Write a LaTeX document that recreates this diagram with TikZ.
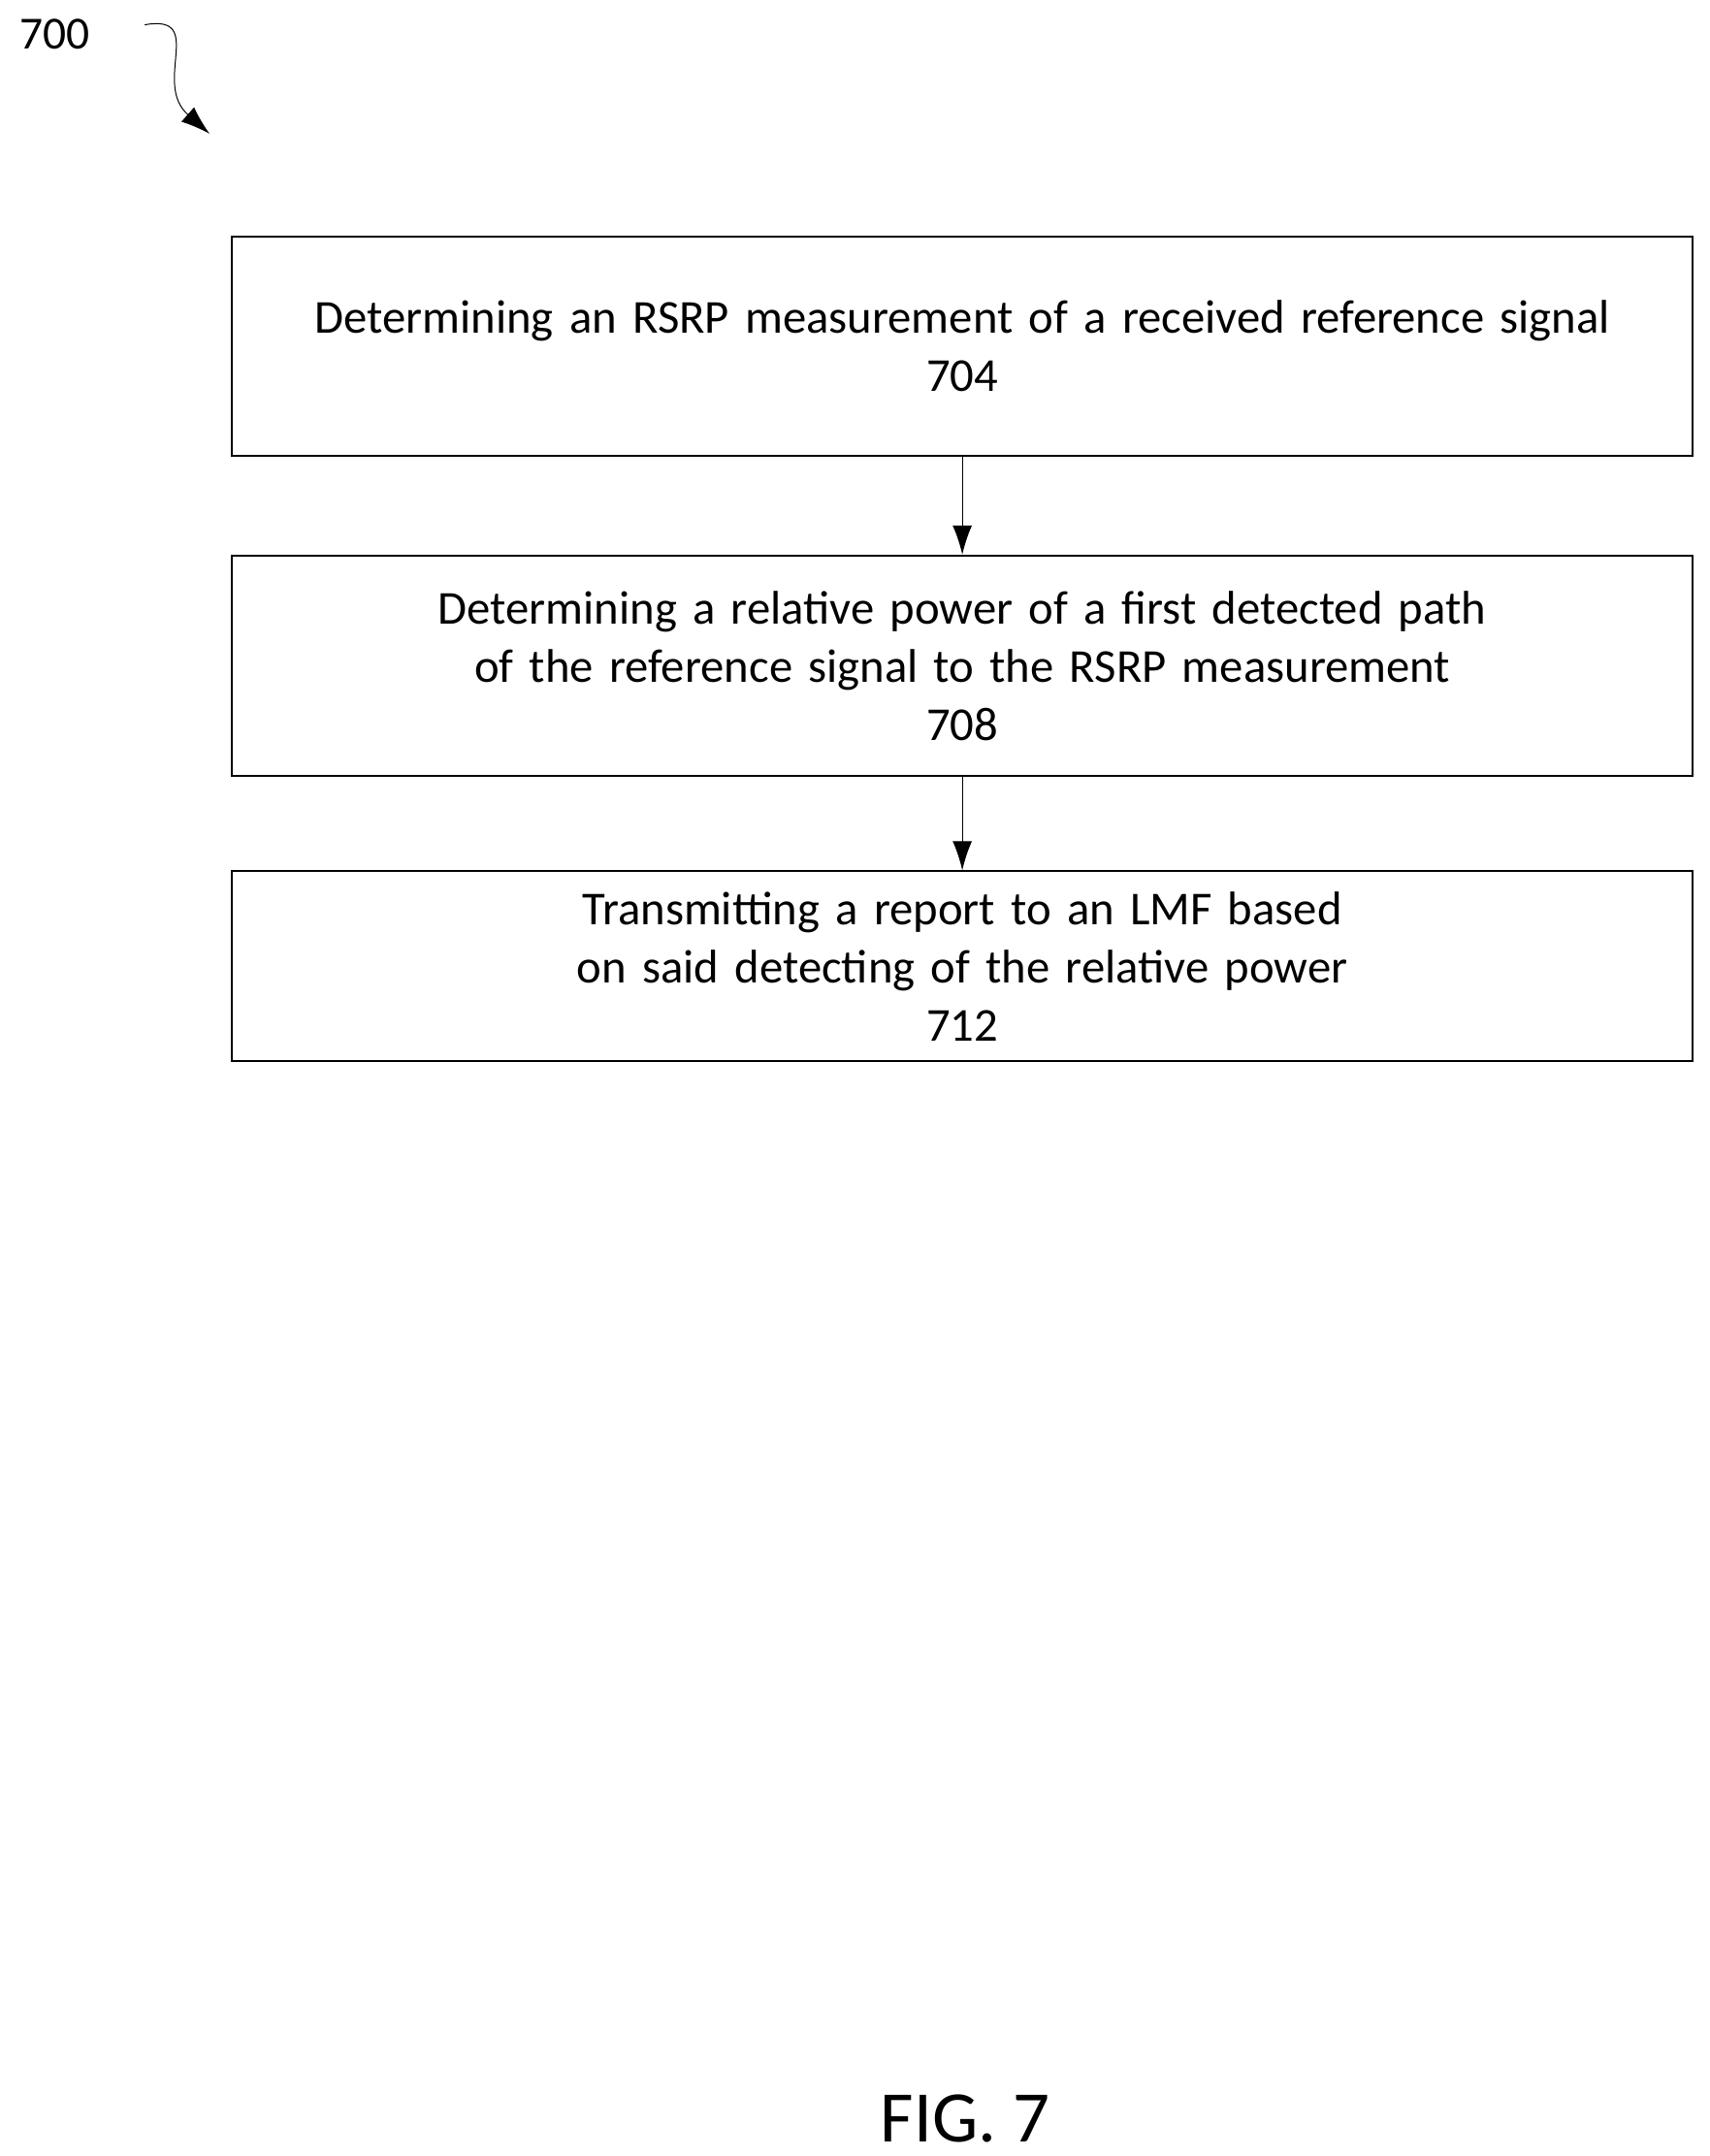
\documentclass[tikz,border=0pt]{standalone}
\usepackage{fontspec}
\setmainfont{Carlito}
\usetikzlibrary{positioning,arrows.meta}
\tikzstyle{etape} = [draw, thick, text width=20.6cm, align=center,
  font=\fontsize{19.5}{24}\selectfont, inner xsep=0.3cm, inner ysep=0pt]
\tikzstyle{line} = [draw, -{Latex[length=12pt,width=8pt]}]
\begin{document}
\begin{tikzpicture}[x=0.02cm,y=-0.02cm]
  \useasboundingbox (0,0) rectangle (1240,1564);

  % Draw diagram elements
  \node (p704) [etape, minimum height=3.18cm] at (698,251)
    {Determining an RSRP measurement of a received reference signal\\704};
  \node (p708) [etape, minimum height=3.2cm] at (698,483)
    {Determining a relative power of a first detected path of the reference signal to the RSRP measurement\\708};
  \node (p712) [etape, minimum height=2.76cm] at (698,701)
    {Transmitting a report to an LMF based on said detecting of the relative power\\712};
  \node (n700) at (40,25) {\fontsize{19}{22}\selectfont 700};
  \node (fig) at (700,1537) {\fontsize{30}{34}\selectfont FIG. 7};
  \coordinate (c1) at (105,18);
  \coordinate (c2) at (152,97);

  % Draw arrows between elements
  \path [line] (p704) -- (p708);
  \path [line] (p708) -- (p712);
  \draw [line] (c1) .. controls (150,10) and (110,60) .. (c2);
\end{tikzpicture}
\end{document}
